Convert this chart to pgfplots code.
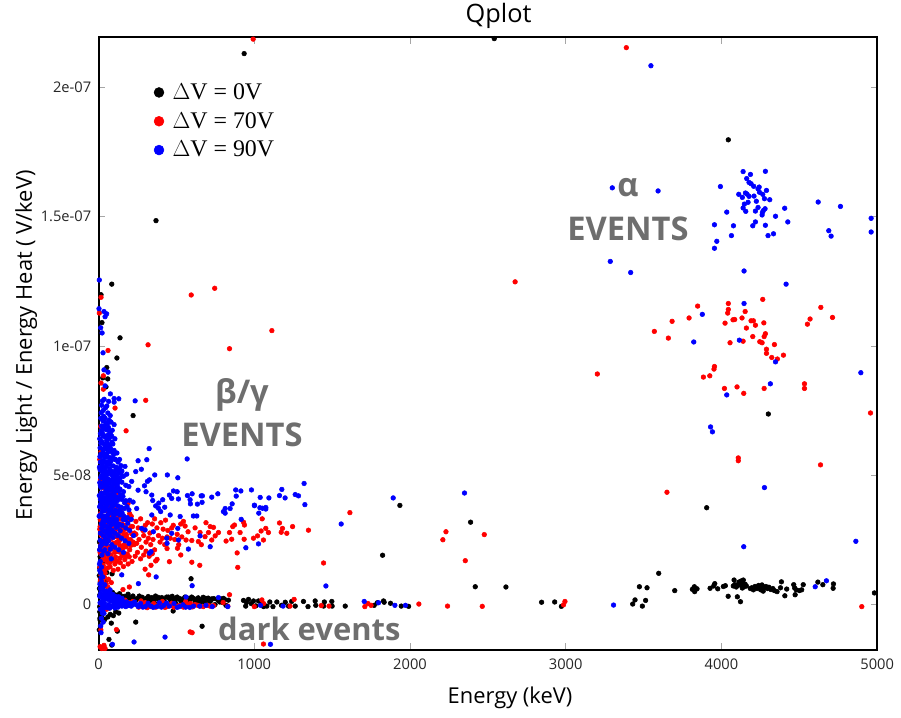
\documentclass[border=0pt]{standalone}
\usepackage{fontspec}
\setmainfont{Open Sans}
\newfontfamily\serifleg{Liberation Serif}
\usepackage{pgfplots}
\pgfplotsset{compat=1.18}
\definecolor{annot}{HTML}{6E6E6E}
\begin{document}
\begin{tikzpicture}[x=1pt,y=1pt]
\useasboundingbox (0,0) rectangle (675.75,538.5);
% y values are in units of 1e-8 V/keV
\begin{axis}[
  at={(73.9pt,51pt)}, anchor=south west,
  scale only axis, width=584pt, height=459.7pt,
  xmin=0, xmax=5000, ymin=-1.78, ymax=21.96,
  xtick={0,1000,2000,3000,4000,5000},
  ytick={0,5,10,15,20},
  yticklabels={0,5e-08,1e-07,1.5e-07,2e-07},
  scaled ticks=false,
  /pgf/number format/assume math mode=true,
  /pgf/number format/set thousands separator={},
  tick align=inside, major tick length=5pt,
  tick style={gray!70, line width=0.5pt},
  axis line style={black, line width=1.5pt},
  ticklabel style={font=\fontsize{11}{13}\selectfont, color=black!85},
  xticklabel style={yshift=-3pt},
  yticklabel style={xshift=-2pt},
  clip=false,
  only marks,
  legend style={at={(0.071,0.929)}, anchor=north west, draw=none, fill=none,
    font=\serifleg\fontsize{17.9}{21}\selectfont, row sep=4.2pt, inner sep=0pt,
    /tikz/column 1/.style={column sep=4.5pt}},
  legend cell align=left,
]
\addlegendimage{only marks, mark=*, black, mark size=3.7pt}
\addlegendentry{$\Delta$V = 0V}
\addlegendimage{only marks, mark=*, red, mark size=3.7pt}
\addlegendentry{$\Delta$V = 70V}
\addlegendimage{only marks, mark=*, blue, mark size=3.7pt}
\addlegendentry{$\Delta$V = 90V}

% Delta V = 0 V
\addplot[forget plot, mark=*, mark size=1.75pt, black, mark options={draw=none, fill=black}] coordinates {
(935,21.32)(2541,21.9)(369,14.85)(85,12.39)(16,11.98)(22,10.9)(138,10.31)(118,9.53)(53,9.16)(59,8.72)(27,8.76)(48,8.41)(222,7.3)
(1935,3.82)(1824,1.89)(2389,3.17)(2419,.67)(2616,.66)(1834,.07)(1875,.03)(1944,-.08)(1991,-.09)(2845,.07)(2929,.08)(2972,-.09)
(3430,0)(3445,.16)(3492,-.08)(3513,.14)(3473,.67)(3522,.63)(3597,1.19)(3700,.52)(3905,3.73)(3822,.61)(3828,.48)(3843,.59)(3813,.57)(3826,.67)
(3927,.61)(3957,.79)(3950,.7)(3976,.59)(4025,.71)(4012,.68)(4043,.3)(4081,.93)(4102,.28)(4122,.09)
(4076,.7)(4085,.75)(4095,.66)(4104,.72)(4112,.85)(4118,.78)(4125,.89)(4130,.7)(4136,.83)(4140,.93)(4146,.67)(4152,.77)(4160,.7)(4134,.62)
(4185,.6)(4195,.63)(4205,.55)(4215,.68)(4228,.6)(4238,.72)(4246,.64)(4252,.55)(4260,.74)(4268,.5)(4275,.63)(4285,.68)(4296,.6)(4305,.65)(4318,.56)(4330,.6)(4340,.52)(4357,.48)
(4385,.86)(4379,.63)(4407,.32)(4419,.58)(4464,.75)(4473,.36)(4480,.55)(4470,.62)(4500,.52)(4515,.55)(4525,.75)(4619,.85)(4651,.75)(4717,.61)(4719,.78)(4982,.43)
(4301,7.36)(4044,17.98)(594,.98)(239,-.7)(665,-.86)(479,-.27)(67,-1.37)(85,-1.59)(82,-.74)(121,-1.05)(10,-.62)(10,1.83)(5,1.1)(87,1.17)
(8,-.3)(12,-.85)(6,.6)(14,1.5)(9,2.1)(18,-.45)(25,-.55)(40,-.6)(60,-.5)(95,-.45)(75,-.4)(110,-.3)(130,-.35)(30,1.65)(45,.9)(7,-.1)(9,-.55)(5,-1.0)(8,.35)(11,.85)(7,1.4)(6,2.4)(13,2.7)(17,2.0)(53,1.22)(38,.7)
(90,.45)(110,.35)(135,.4)(150,.3)(170,.3)(190,.38)(210,.25)(230,.2)(250,.22)(270,.25)(290,.18)(310,.23)(326,.12)(342,.25)(358,.05)(374,.21)(390,.15)(406,.25)(425,.08)(449,.27)(465,.12)(481,.22)(497,.02)(513,.2)(530,.1)(545,.2)(566,.03)(588,.15)(610,.22)(631,.17)(647,.02)(663,.17)(680,.05)(695,.18)(712,.08)(727,.2)(748,-.02)(770,.14)(786,.2)(802,.22)(818,-.05)(834,.15)
(160,.24)(181,.29)(199,.21)(221,.31)(241,.15)(262,.31)(281,.26)(301,.11)(319,.29)(333,.19)(350,.14)(366,.31)(382,.26)(398,.09)(415,.18)(437,.27)(456,.21)(473,.3)(489,.14)(505,.27)(522,.21)(538,.12)(555,.27)(577,.22)(598,.27)(621,.09)(640,.24)(655,.11)(672,.26)(688,.22)(704,.23)(720,.13)(740,.21)(760,.19)(778,.08)(795,.06)(810,.18)
(931,.14)(945,-.08)(963,.18)(980,.02)(995,.12)(1010,-.07)(1027,.12)(1060,-.1)(1081,-.08)(1100,.08)(1145,.08)(1175,-.05)(1199,.07)(1220,-.08)(1263,-.08)(1316,.1)(1391,.12)(1395,-.05)(1445,-.08)(1450,.08)(1498,.1)(1500,-.08)(1584,-.08)(1830,.12)(1790,.05)(1770,-.05)(950,.06)(1045,.03)(1120,-.1)(1240,.1)(1345,-.1)
};

% Delta V = 70 V
\addplot[forget plot, mark=*, mark size=1.75pt, red, mark options={draw=none, fill=red}] coordinates {
(595,11.97)(746,12.23)(1113,10.59)(318,10.04)(841,9.89)(303,7.89)(61,9.82)(5,11.27)(16,11.88)(31,8.84)(16,8.56)(31,8.32)(106,7.59)(177,6.71)(14,6.88)(16,5.9)(14,5.2)
(2675,12.48)(993,21.88)(3389,21.55)(3203,8.91)(3650,4.33)
(3569,10.56)(3659,10.3)(3683,10.95)(3792,11.08)(3847,11.54)(4044,11.64)(4044,11.41)(4040,11.27)(4023,10.88)(4074,11.01)(4085,11.02)(4132,11.08)(4152,11.33)(4265,11.8)(4160,10.69)(4190,10.97)(4205,10.97)(4218,10.8)(4272,10.89)(4201,10.36)(4282,10.47)(4274,10.36)(4055,10.12)(4139,10.18)(4246,10.16)(4261,10.12)(4340,10.05)(4289,9.87)(4289,9.71)(4323,9.55)(4359,9.49)(4398,9.64)(3955,9.2)(3952,9.1)(3925,8.84)(3884,8.79)(4019,8.35)(4100,8.41)(4143,8.16)(4274,8.35)(4533,8.53)(4533,8.35)(4552,10.84)(4569,11.04)(4638,11.49)(4713,11.1)
(4957,7.4)(4108,5.66)(4108,5.55)(4636,5.39)(4901,-.1)
(2211,2.49)(2231,2.8)(2477,2.69)(2355,1.68)(2057,0)(2241,-.08)(2464,-.09)(2995,.1)(2986,-.03)
(1614,3.54)(1445,1.59)(1348,2.86)(1246,3)(1209,2.74)(1173,2.78)(1181,2.93)(1162,3.14)(1091,2.77)(1074,2.93)(1051,3.3)(1044,2.83)(995,2.55)(1021,2.64)(1059,2.48)(931,3.17)(937,3.06)(935,2.51)(890,1.98)(894,1.42)(873,3.06)(862,3)(841,2.77)(909,2.77)(855,2.51)(819,2.44)(770,2.77)(738,2.97)(717,3)(749,2.64)(727,2.48)(706,2.77)(684,2.61)(641,2.42)(652,2.77)(599,2.46)(562,2.48)(556,3.02)(528,3.1)(507,2.16)(528,1.9)(455,1.64)(599,1.62)(650,1.5)(376,1.73)(367,1.67)(337,1.5)(299,1.35)(322,1.13)
(198,.66)(157,.56)(273,.12)(841,.36)(601,-1.11)(115,-.99)(1049,.16)(1256,.18)(1059,-1.55)(10,-1.65)(30,-1.7)(20,-1.72)(35,-1.6)(42,-1.72)(588,-1.08)
% band of the beta/gamma events
(480,3.05)(505,2.7)(470,2.95)(445,2.85)(490,2.5)(515,2.3)(460,2.55)(430,3.25)(415,2.9)(400,3.15)(385,2.65)(395,2.4)(410,2.55)(425,2.3)(440,2.15)(375,2.95)(360,3.3)(345,3.1)(330,2.75)(315,3.15)(300,3.05)(285,2.85)(270,3.3)(255,2.95)(240,3.2)(350,2.5)(335,2.3)(320,2.55)(305,2.4)(290,2.65)(275,2.2)(260,2.5)(245,2.35)(230,2.75)(360,2.1)(345,1.95)(325,1.85)(305,2.05)(290,1.9)(270,1.75)(250,2.0)(235,1.85)(222,2.4)(215,1.65)(200,2.1)(190,1.55)(175,1.85)(160,1.45)(140,1.6)(125,1.35)(105,1.55)(95,1.3)(180,2.6)(165,3.05)(150,2.2)(130,2.7)(115,2.05)(210,3.0)(195,3.25)(440,2.6)(535,2.6)(545,3.2)(575,2.8)(620,2.95)(660,2.3)(690,3.15)
% dense part, lowest energies
(12,4.8)(18,4.3)(25,3.9)(32,3.4)(40,3.1)(50,2.8)(60,2.5)(70,2.2)(80,1.9)(90,2.9)(100,2.6)(110,3.2)(120,2.4)(130,3.7)(140,3.1)(150,2.6)(160,3.4)(170,2.9)(180,3.3)(190,3.9)(200,3.5)(210,3.4)(12,3.5)(20,2.9)(28,2.4)(36,2.0)(44,1.7)(52,2.2)(64,1.8)(76,2.7)(88,2.3)(104,2.0)(116,2.9)(128,3.3)(142,2.0)(155,2.8)(8,2.9)(15,2.3)(22,1.9)(30,1.5)(38,2.7)(46,3.3)(56,3.6)(68,3.0)(82,3.5)(96,3.9)(108,4.1)(122,3.6)(136,3.3)(148,3.7)(165,2.3)(178,2.7)(192,2.9)(204,2.5)(218,3.0)(228,2.3)(240,2.7)(10,2.0)(14,1.6)(24,1.3)(42,1.2)(58,1.4)(72,1.6)(8,5.6)(12,4.1)(10,3.0)(35,4.5)(60,4.2)(85,4.4)(112,4.6)(150,4.2)
(17,2.67)(23,2.21)(29,3.13)(34,1.78)(39,2.34)(47,1.93)(51,2.63)(57,1.62)(63,2.91)(69,2.07)(74,1.44)(78,2.51)(83,1.68)(91,2.14)(97,1.73)(103,2.83)(109,1.82)(113,2.37)(119,1.66)(127,2.03)(133,2.44)(138,1.78)(147,2.96)(153,1.88)(158,2.17)(163,2.64)(169,1.72)(177,2.22)(184,1.94)(189,2.48)(197,1.83)(207,2.27)(213,2.72)(13,1.97)(19,1.44)(26,1.71)(33,2.52)(41,1.36)(48,3.01)(55,2.41)(61,1.97)(67,3.31)(73,2.62)(81,3.12)(87,2.71)(93,3.34)(99,2.36)(107,3.01)(117,3.41)(124,2.58)(131,2.93)(137,2.27)(144,3.39)(152,3.09)(11,3.27)(16,3.72)(21,3.19)(27,2.81)(37,3.67)(43,2.88)(54,3.23)(62,3.82)(71,3.46)(79,3.96)(86,3.23)(94,3.63)(101,4.28)(111,3.82)(121,4.33)
(16,1.12)(28,.92)(9,1.42)(38,1.03)(22,.71)(49,.78)(64,.96)(82,.83)(12,.93)
% near the zero line
(30,.8)(45,.5)(60,.65)(75,.4)(90,.3)(120,.25)(145,.1)(170,.15)(195,.05)(220,.1)(250,-.05)(275,-.08)(300,.05)(330,-.1)(355,.02)(385,-.05)(410,.1)(440,-.1)(470,.03)(500,-.1)(530,-.05)(560,.1)(590,.02)(620,-.02)(650,-.08)(700,-.05)(740,-.06)(800,.06)(830,-.08)(1000,-.1)(1060,.02)(1230,-.08)(1430,-.06)(1480,-.08)(1710,-.1)(1750,-.05)(1730,.02)(20,.3)(35,1.05)(15,-1.0)(18,.0)(52,-.2)
(258,-.12)(283,-.03)(312,-.14)(342,-.06)(368,-.12)(398,-.03)(427,-.13)(452,-.05)(483,-.12)(513,-.07)(545,-.12)(575,-.04)(604,-.11)(636,-.05)(672,-.1)(716,-.08)
};

% Delta V = 90 V
\addplot[forget plot, mark=*, mark size=1.75pt, blue, mark options={draw=none, fill=blue}] coordinates {
(3593,16)(3993,16.17)(4139,16.75)(4186,16.64)(4282,16.76)(4162,16.48)(4177,16.33)(4190,16.28)(4207,16.18)(4242,16.15)(4235,16.08)(4244,15.95)(4265,15.87)(4289,16.02)(4111,15.87)(4134,15.75)(4154,15.92)(4164,15.88)(4177,15.79)(4209,15.8)(4276,15.7)(4310,15.66)(4224,15.6)(4171,15.56)(4147,15.49)(4139,15.34)(4156,15.21)(4235,15.36)(4218,15.22)(4280,15.31)(4269,15.24)(4263,15.17)(4261,15.07)(4034,15.18)(4347,15.02)(4406,15.33)(4426,14.8)(4218,14.8)(4201,14.65)(4282,14.67)(4077,14.65)(3955,14.69)(4064,14.27)(4299,14.27)(4334,14.34)(3970,14.05)(3955,13.78)(4621,15.57)(4764,15.4)(4961,14.94)(4961,14.41)(4689,14.46)(4704,14.25)(4145,12.9)(4415,12.39)(4145,11.64)(3877,11.22)(3822,10.15)(4115,10.22)(4347,9.38)(4895,8.96)(4314,8.53)(4034,8.1)
(3547,20.85)(3299,16.12)(3286,13.27)(3417,12.84)(3942,6.67)(3930,6.86)(4143,2.22)(4276,4.51)(4863,2.43)(1892,4.11)(2350,4.3)(1903,-.05)(1971,-.05)(3307,-.04)(4602,.67)(4674,.9)
(5,12.55)(3,11.44)(35,11.33)(52,11.24)(42,11.13)(14,10.7)(23,10.5)(29,9.73)(35,9.07)(61,8.98)(42,8.45)(76,8.14)(130,7.95)(100,7.96)(235,7.87)(100,7.82)(65,7.85)
(325,6.02)(569,5.62)(254,5.55)(310,5.59)(170,5.33)(275,5.22)(239,5.13)(181,5.03)(361,5)(442,5.0)(509,4.89)(327,4.81)(314,4.75)(213,4.75)(1320,4.67)(295,4.58)(254,4.41)(305,4.35)(342,4.22)(481,4.38)(505,4.35)(455,4.22)(470,4.09)(513,4.07)(571,4.2)(601,4.27)(659,4.19)(667,4.19)(665,3.94)(635,3.87)(588,4.04)(590,3.88)(727,4.14)(766,4.27)(881,4.42)(914,4.38)(982,4.42)(884,4.18)(858,3.88)(1038,4.13)(1094,4.11)(1001,3.83)(1036,3.73)(1074,3.74)(1177,4.44)(1162,4.2)(1198,4.11)(1263,4.24)(1284,4.19)(1325,3.85)(813,3.7)(845,3.7)(425,3.75)(412,4.04)(387,3.91)(367,3.8)(348,4.01)
(1001,3.81)(1029,3.52)(1053,3.71)(1074,3.68)(802,3.58)(813,3.52)(916,3.28)(609,3.41)(631,3.41)(524,3.39)(460,3.45)(399,3.58)(385,3.71)(342,3.45)(352,2.8)(277,2.93)(299,2.87)(652,2.64)(513,2.48)(509,2.93)(470,2.74)(438,2.55)(440,2.35)(717,2.22)(577,2.13)(337,2.03)(327,1.97)(1027,2.33)(946,2.18)(1558,3.1)(1460,.7)(601,.71)(256,.79)(370,1.05)(149,1.13)(562,.27)(770,.25)(1706,.1)(1798,.05)
(427,-1.28)(228,-1.47)(16,-1.11)(89,-1.56)(1104,-1.56)(35,-.36)
% dense cluster
(20,7.7)(30,7.5)(45,7.6)(60,7.4)(75,7.3)(15,7.2)(28,7.1)(42,7.2)(58,7.0)(80,7.05)(100,6.95)(20,6.9)(35,6.8)(50,6.75)(70,6.7)(12,6.6)(30,6.5)(48,6.45)(62,6.55)(85,6.5)(105,6.4)(20,6.3)(38,6.2)(55,6.25)(72,6.15)(92,6.2)(10,6.05)(28,6)(45,6.02)(62,5.95)(80,5.9)(100,5.95)(118,5.85)(135,5.6)(15,5.8)(33,5.75)(50,5.72)(68,5.68)(88,5.65)(108,5.6)(125,5.5)(12,5.5)(25,5.45)(40,5.5)(56,5.42)(74,5.4)(94,5.35)(112,5.3)(135,5.25)(150,5.15)(10,5.2)(22,5.15)(36,5.2)(52,5.12)(66,5.1)(82,5.15)(100,5.05)(118,5.0)(140,4.9)(160,4.95)(14,4.9)(30,4.88)(44,4.92)(60,4.85)(76,4.8)(92,4.85)(108,4.75)(126,4.7)(150,4.72)(175,4.6)(195,4.55)(12,4.6)(26,4.55)(40,4.62)(55,4.55)(70,4.5)(86,4.55)(102,4.45)(120,4.42)(138,4.45)(160,4.35)(18,4.3)(34,4.28)(48,4.32)(64,4.25)(80,4.22)(96,4.25)(114,4.15)(132,4.1)(150,4.05)(175,4.0)(200,4.02)(222,3.95)(12,4.05)(28,3.98)(42,4.02)(58,3.95)(74,3.9)(90,3.95)(108,3.85)(126,3.8)(145,3.75)(165,3.7)(195,3.65)(245,3.7)(16,3.75)(34,3.68)(50,3.7)(66,3.62)(82,3.6)(100,3.55)(118,3.5)(138,3.45)(160,3.42)(185,3.35)(210,3.28)(12,3.45)(26,3.38)(42,3.4)(58,3.32)(76,3.28)(94,3.25)(112,3.2)(130,3.1)(150,3.05)(175,2.95)(200,2.85)(225,2.65)(18,3.1)(36,3.05)(52,3.0)(70,2.95)(88,2.85)(106,2.75)(125,2.65)(148,2.55)(170,2.45)(195,2.35)(12,2.75)(30,2.65)(45,2.55)(65,2.45)(85,2.3)(105,2.2)(130,2.1)(160,2.0)(20,2.3)(40,2.1)(60,1.95)(82,1.75)(22,1.9)(8,6.4)(6,5.3)(5,4.2)(4,3.4)(8,1.3)
(17,7.41)(24,6.63)(33,7.27)(39,6.91)(47,7.03)(53,6.33)(64,6.84)(37,6.52)(29,5.87)(41,5.67)(23,5.33)(19,4.98)(31,4.71)(47,4.41)(38,4.03)(24,3.59)(21,2.93)(32,2.43)(54,5.83)(67,6.41)(77,6.02)(86,6.27)(96,5.79)(103,5.61)(71,5.23)(57,5.03)(46,4.77)(68,4.68)(83,5.01)(97,4.66)(116,4.87)(131,4.83)(143,5.07)(123,4.53)(106,4.36)(89,4.11)(72,4.08)(53,3.82)(37,3.61)(61,3.47)(79,3.71)(104,3.97)(122,4.01)(141,4.22)(157,4.17)(168,3.92)(183,3.77)(136,3.63)(117,3.28)(97,3.42)(84,3.07)(67,3.16)(47,3.22)(28,3.21)(56,2.72)(72,2.63)(93,2.58)(114,2.97)(139,2.84)(158,3.27)(188,3.13)(33,2.05)(50,2.33)(76,2.13)(27,5.56)(44,5.29)(61,5.51)(79,5.53)(91,5.07)(109,5.17)(126,5.13)(144,5.36)(15,6.23)(9,5.71)(16,4.52)(8,4.7)(7,3.77)(11,2.47)(14,3.87)(18,6.72)(25,7.87)(36,7.93)(53,7.67)(68,7.12)(88,6.73)(41,6.14)(59,6.11)(76,6.58)(52,5.36)(34,5.03)(65,4.43)(86,4.76)(99,4.91)(113,4.63)(131,4.37)(55,4.71)(43,3.77)(74,3.53)(91,3.79)(109,3.63)(128,3.57)(151,3.53)(172,3.27)(63,2.87)(81,2.76)(101,3.13)(122,3.01)(39,2.83)(24,4.14)(32,3.92)(48,4.13)(62,4.07)(78,4.4)(94,4.47)(112,4.02)
% near the zero line
(15,1.2)(28,1.05)(20,.85)(40,.75)(12,.6)(30,.55)(50,.5)(70,.42)(90,.38)(110,.3)(130,.28)(150,.22)(8,.3)(22,.25)(40,.2)(60,.18)(80,.12)(100,.08)(120,.05)(140,.02)(160,.05)(180,.08)(200,.02)(220,.03)(240,-.02)(10,.05)(25,-.05)(45,-.1)(65,-.02)(85,-.1)(105,-.15)(125,-.12)(150,-.08)(175,-.1)(198,-.05)(12,-.2)(25,-.35)(18,-.55)(30,-.7)(14,-.85)(270,.02)(300,-.1)(335,-.08)(375,-.1)(390,.05)(420,-.05)(455,-.08)(485,.02)(520,-.1)(560,-.12)(610,-.08)(650,-.08)(690,-.05)(730,-.1)(830,-.1)(1040,-.05)(1185,-.08)
(17,1.02)(9,.77)(24,.62)(35,.37)(14,.42)(6,1.55)(11,1.65)(19,1.43)(7,2.1)(13,2.25)(26,.12)(37,.04)(53,.27)(47,.33)(68,.21)(77,.31)(93,.17)(113,.14)(128,.13)(143,.16)(57,-.14)(72,-.16)(96,-.03)(117,-.05)(137,-.03)(166,-.02)(188,-.06)(210,-.08)(232,.08)(255,-.1)
(285,-.12)(318,.03)(352,-.13)(404,-.12)(437,.04)(505,-.13)(542,-.03)(586,-.13)(30,-.2)(42,.48)(58,.33)(74,.55)(85,.22)(104,.24)(122,.21)(138,.09)(158,.1)(172,.01)(190,-.02)(215,-.04)
};

\end{axis}
% titles and annotations
\node[font=\fontsize{19}{22}\selectfont, anchor=base] at (374,521.5) {Qplot};
\node[font=\fontsize{16.4}{18}\selectfont, anchor=base] at (382.5,10.5) {Energy (keV)};
\node[font=\fontsize{16.4}{18}\selectfont, anchor=base, rotate=90] at (24,279.5) {Energy Light / Energy Heat ( V/keV)};
\begin{scope}[every node/.style={font=\bfseries\fontsize{24.5}{28}\selectfont, text=annot, inner sep=0pt, anchor=center}]
\node at (471,397.5) {α};
\node at (471,366.5) {EVENTS};
\node at (181.5,242) {β/γ};
\node at (181.5,212.5) {EVENTS};
\node[font=\bfseries\fontsize{23.2}{28}\selectfont] at (232,67) {dark events};
\end{scope}
\end{tikzpicture}
\end{document}
